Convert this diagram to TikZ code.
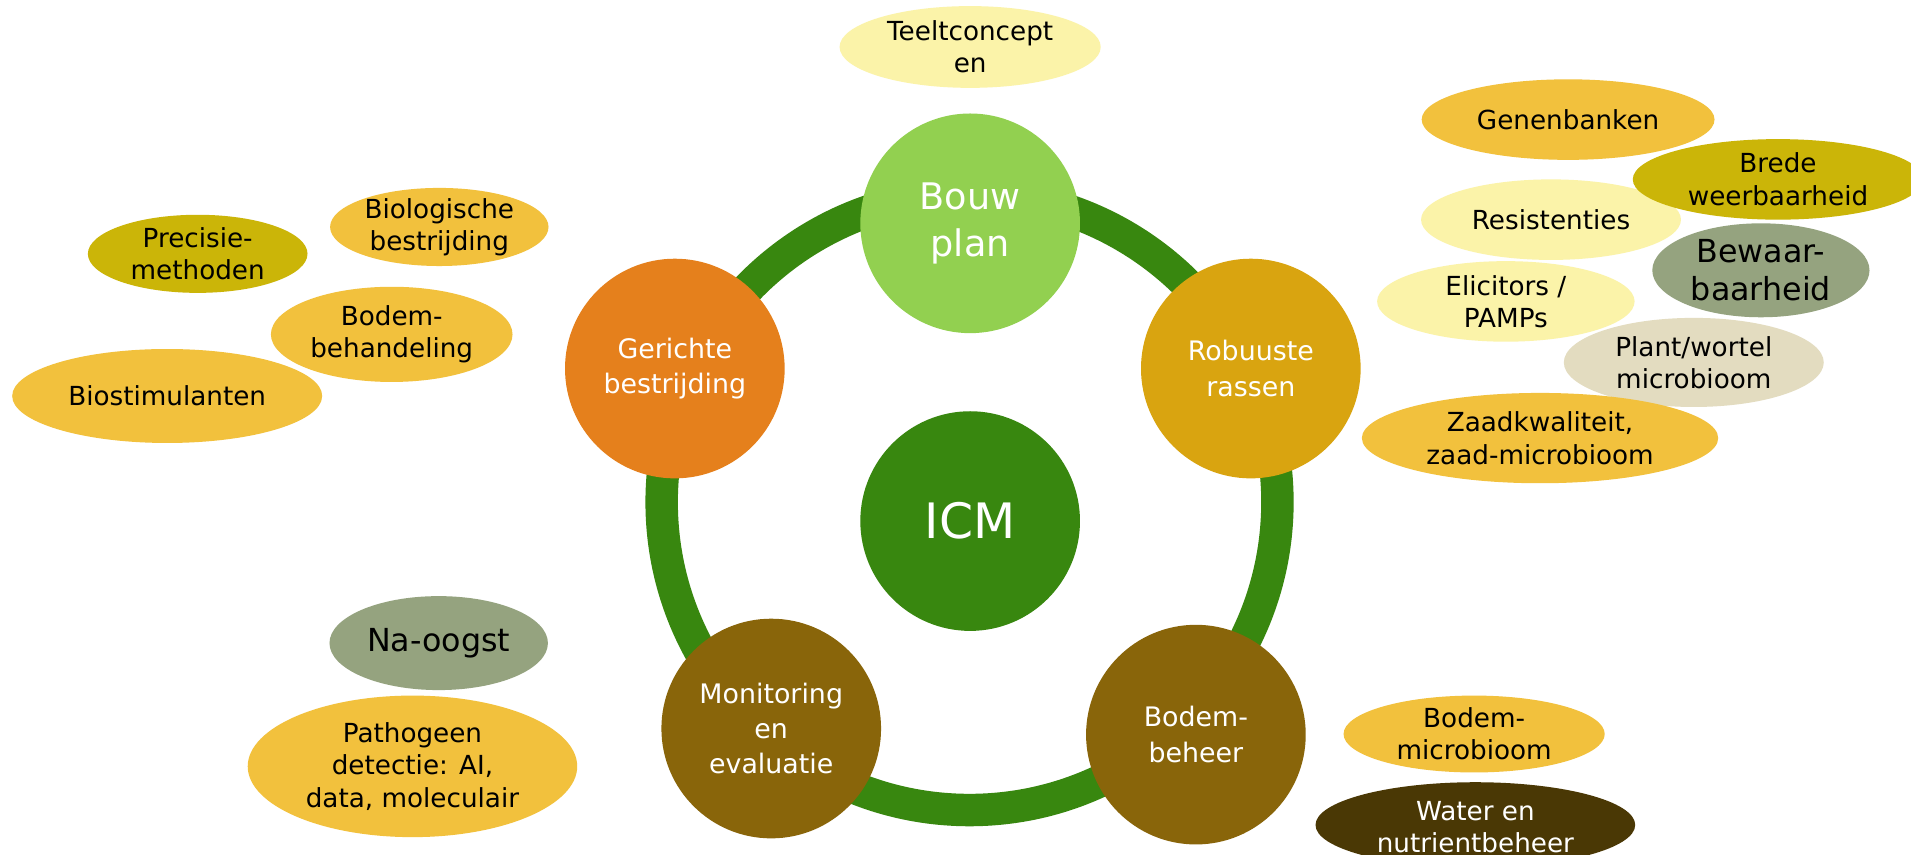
\documentclass[tikz,border=0pt]{standalone}
\usepackage{fontspec}
\setmainfont{DejaVu Sans}
\usetikzlibrary{shapes.geometric}
\definecolor{ringgreen}{HTML}{38870F}
\definecolor{bouwgreen}{HTML}{92D050}
\definecolor{robgold}{HTML}{D9A410}
\definecolor{brownhub}{HTML}{89650A}
\definecolor{orangehub}{HTML}{E5801C}
\definecolor{paleyel}{HTML}{FBF3A9}
\definecolor{midyel}{HTML}{F2C13D}
\definecolor{olive}{HTML}{CBB508}
\definecolor{sage}{HTML}{95A37F}
\definecolor{beige}{HTML}{E3DCC0}
\definecolor{darkbrown}{HTML}{4A3805}
\newcommand\bubble[7]{%
  \node[bub, fill=#6, minimum width=#4pt, minimum height=#5pt] (#1) at (#2,#3) {};
  \node[btxt] (#1-t) at (#1) {#7};
}
\begin{document}
\begin{tikzpicture}[x=1pt,y=-1pt,
  hub/.style={circle, minimum size=180pt, inner sep=0pt, outer sep=0pt, text=white, align=center, font=\fontsize{22}{29}\selectfont},
  bub/.style={ellipse, inner sep=0pt, outer sep=0pt},
  btxt/.style={inner sep=0pt, align=center, text=black, font=\fontsize{21.5}{26.5}\selectfont},
  bigtxt/.style={btxt, font=\fontsize{26}{31}\selectfont},
]
\useasboundingbox (0,0) rectangle (1566,700.6);
\clip (0,0) rectangle (1566,700.6);
\fill[white] (0,0) rectangle (1566,700.6);

% ring
\node[circle, draw=ringgreen, line width=26.6pt, minimum size=504.6pt, inner sep=0pt] (ring) at (794.5,411.5) {};

% hubs
\node[hub, fill=ringgreen, font=\fontsize{40}{48}\selectfont] (icm) at (795,427) {ICM};
\node[hub, fill=bouwgreen, font=\fontsize{30}{38}\selectfont] (bouw) at (795,183) {Bouw\\plan};
\node[hub, fill=robgold] (rob) at (1025,302) {Robuuste\\rassen};
\node[hub, fill=brownhub] (bodem) at (980,602) {Bodem-\\beheer};
\node[hub, fill=brownhub] (mon) at (632,597) {Monitoring\\en\\evaluatie};
\node[hub, fill=orangehub] (ger) at (553,302) {Gerichte\\bestrijding};

% top
\bubble{teelt}{795}{38.5}{214}{67}{paleyel}{Teeltconcept\\en}

% right group
\bubble{gen}{1285}{98}{240}{66}{midyel}{Genenbanken}
\bubble{res}{1271}{180}{213}{66}{paleyel}{Resistenties}
\bubble{brede}{1457}{147}{238}{66}{olive}{Brede\\weerbaarheid}
\node[bub, fill=sage, minimum width=178pt, minimum height=77pt] (bew) at (1443,221.5) {};
\node[bigtxt] (bew-t) at (bew) {Bewaar-\\baarheid};
\bubble{elic}{1234}{247}{211}{66}{paleyel}{Elicitors /\\PAMPs}
\bubble{plant}{1388}{297}{213}{73}{beige}{Plant/wortel\\microbioom}
\bubble{zaad}{1262}{359}{292}{74}{midyel}{Zaadkwaliteit,\\zaad-microbioom}
\bubble{bmic}{1208}{601.5}{214}{63}{midyel}{Bodem-\\microbioom}
\node[bub, fill=darkbrown, minimum width=262pt, minimum height=70pt] (water) at (1209,676) {};
\node[btxt, text=white] (water-t) at (1209,678) {Water en\\nutrientbeheer};

% left group
\bubble{prec}{162}{208}{180}{64}{olive}{Precisie-\\methoden}
\bubble{biol}{360}{186}{179}{64}{midyel}{Biologische\\bestrijding}
\bubble{biost}{137}{324.5}{254}{77}{midyel}{Biostimulanten}
\bubble{bbeh}{321}{274}{198}{78}{midyel}{Bodem-\\behandeling}

% bottom left
\node[bub, fill=sage, minimum width=179pt, minimum height=77pt] (na) at (359.5,527) {};
\node[bigtxt] (na-t) at (na) {Na-oogst};
\bubble{path}{338}{628}{270}{116}{midyel}{Pathogeen\\detectie: AI,\\data, moleculair}
\end{tikzpicture}
\end{document}
